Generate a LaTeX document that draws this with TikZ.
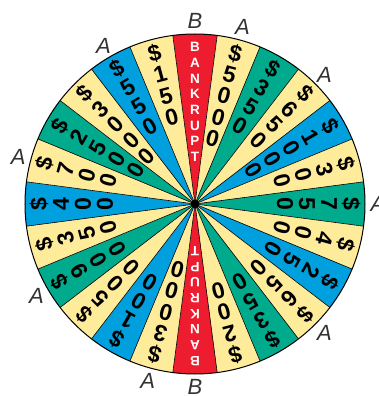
\documentclass[tikz,border=0pt]{standalone}
\usepackage{fontspec}
\setmainfont{Liberation Sans}
\definecolor{wheelred}{RGB}{237,28,46}
\definecolor{wheelyellow}{RGB}{255,236,155}
\definecolor{wheelgreen}{RGB}{0,170,140}
\definecolor{wheelblue}{RGB}{0,160,222}

\begin{document}
\begin{tikzpicture}[x=1pt, y=1pt]
\tikzstyle{spoke}=[draw=black, line width=0.6pt]
\tikzstyle{rim}=[draw=black, line width=1pt]
\tikzstyle{digit}=[inner sep=0pt, font=\fontsize{23}{23}\selectfont\bfseries]
\tikzstyle{bankrupt}=[inner sep=0pt, text=white, font=\fontsize{13.5}{13.5}\selectfont\bfseries]
\tikzstyle{rimlabel}=[inner sep=0pt, text=black!80, font=\fontsize{22}{22}\selectfont\itshape]
\useasboundingbox (-195,-192) rectangle (184,204);
\foreach \ang/\col in {90/wheelred, 75/wheelyellow, 60/wheelgreen, 45/wheelyellow, 30/wheelblue, 15/wheelyellow,
  0/wheelgreen, -15/wheelyellow, -30/wheelblue, -45/wheelyellow, -60/wheelgreen, -75/wheelyellow,
  -90/wheelred, -105/wheelyellow, -120/wheelblue, -135/wheelyellow, -150/wheelgreen, -165/wheelyellow,
  -180/wheelblue, -195/wheelyellow, -210/wheelgreen, -225/wheelyellow, -240/wheelblue, -255/wheelyellow}
  \fill[\col] (0,0) -- ({\ang-7.5}:170) arc[start angle=\ang-7.5, end angle=\ang+7.5, radius=170] -- cycle;
\foreach \a in {7.5,22.5,...,352.5}
  \draw[spoke] (0,0) -- (\a:170);
\draw[rim] (0,0) circle[radius=170];
\fill (0,0) circle[radius=4];
\foreach \ang/\chars [count=\i] in {75/{\$,5,0,0,0}, 60/{\$,3,5,0}, 45/{\$,6,5,0}, 30/{\$,1,0,0,0}, 15/{\$,3,0,0},
  0/{\$,7,5,0}, -15/{\$,4,0,0}, -30/{\$,2,5,0}, -45/{\$,6,5,0}, -60/{\$,3,5,0}, -75/{\$,2,0,0},
  -105/{\$,3,0,0,0}, -120/{\$,1,0,0}, -135/{\$,5,0,0}, -150/{\$,9,0,0}, -165/{\$,3,5,0},
  -180/{\$,4,0,0}, -195/{\$,7,0,0}, -210/{\$,2,5,0,0}, -225/{\$,3,0,0,0}, -240/{\$,5,5,0}, -255/{\$,1,5,0}}
  \foreach \ch [count=\k] in \chars
    \node[digit, rotate=\ang-90] (d\i-\k) at (\ang:{156-22*(\k-1)}) {\ch};
\foreach \ang in {90,270}
  \foreach \ch [count=\k] in {B,A,N,K,R,U,P,T}
    \node[bankrupt, rotate=\ang-90] (b\ang-\k) at (\ang:{157-15.7*(\k-1)}) {\ch};
\foreach \ang/\lab [count=\i] in {90/B, 270/B, 120/A, 75/A, 45/A, 165/A, 0/A, 210/A, -45/A, 255/A}
  \node[rimlabel] (lab\i) at (\ang:183) {\lab};
\end{tikzpicture}
\end{document}
